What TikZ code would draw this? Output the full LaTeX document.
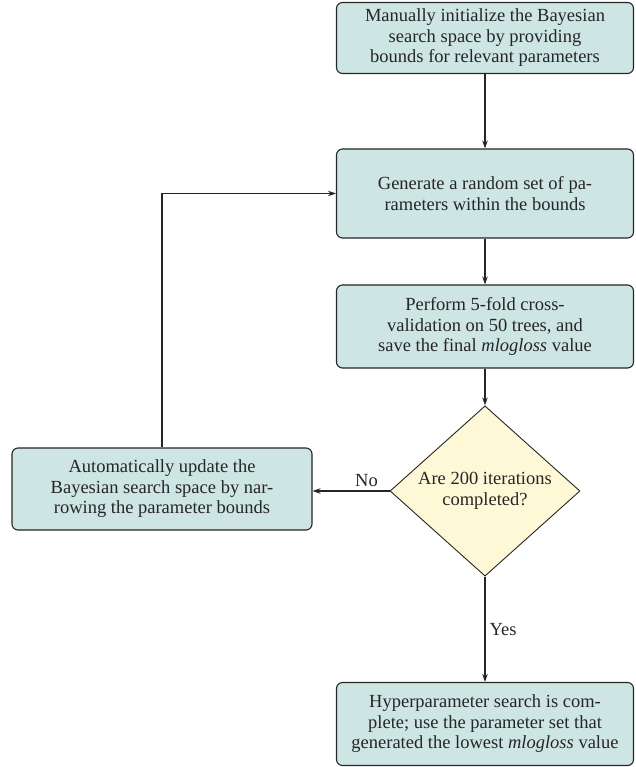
\documentclass[tikz,border=0pt]{standalone}
\usepackage{fontspec}
\setmainfont{Liberation Serif}
\usetikzlibrary{shapes.geometric,arrows.meta}
\definecolor{boxfill}{HTML}{CDE5E3}
\definecolor{decfill}{HTML}{FFF8D6}
\definecolor{edge}{HTML}{262626}
\begin{document}
\begin{tikzpicture}[x=1pt,y=1pt,
  every node/.style={font=\fontsize{18.5}{20.5}\selectfont, text=edge},
  procbox/.style={draw=edge, line width=1.1pt, fill=boxfill, rounded corners=6pt,
    align=center, inner sep=2pt},
  decbox/.style={draw=edge, line width=0.9pt, fill=decfill, shape=diamond,
    align=center, inner sep=0pt, minimum width=190pt, minimum height=168pt},
  conn/.style={draw=edge, line width=1.1pt, -{Stealth[length=8pt,width=5.5pt,inset=2.5pt]}},
  lbl/.style={inner sep=1pt}
]
\useasboundingbox (0,0) rectangle (636,-767);
\node[procbox, minimum width=297pt, minimum height=71pt] (init) at (485,-38)
  {Manually initialize the Bayesian\\search space by providing\\bounds for relevant parameters};
\node[procbox, minimum width=297pt, minimum height=89pt] (gen) at (485,-193.5)
  {Generate a random set of pa-\\rameters within the bounds};
\node[procbox, minimum width=297pt, minimum height=83pt] (cv) at (485,-326.5)
  {Perform 5-fold cross-\\validation on 50 trees, and\\save the final \textit{mlogloss} value};
\node[decbox] (dec) at (485,-491) {Are 200 iterations\\completed?};
\node[procbox, minimum width=300pt, minimum height=82pt] (upd) at (162,-489)
  {Automatically update the\\Bayesian search space by nar-\\rowing the parameter bounds};
\node[procbox, minimum width=297pt, minimum height=83pt] (done) at (485,-724)
  {Hyperparameter search is com-\\plete; use the parameter set that\\generated the lowest \textit{mlogloss} value};
\draw[conn] (init.south) -- (gen.north);
\draw[conn] (gen.south) -- (cv.north);
\draw[conn] (cv.south) -- (dec.north);
\draw[conn] (dec.west) -- node[lbl, pos=0.3, above=3pt] {No} (dec.west -| upd.east);
\draw[conn] (dec.south) -- node[lbl, right=3pt] {Yes} (done.north);
\draw[conn] (upd.north) |- (gen.west);
\end{tikzpicture}
\end{document}
